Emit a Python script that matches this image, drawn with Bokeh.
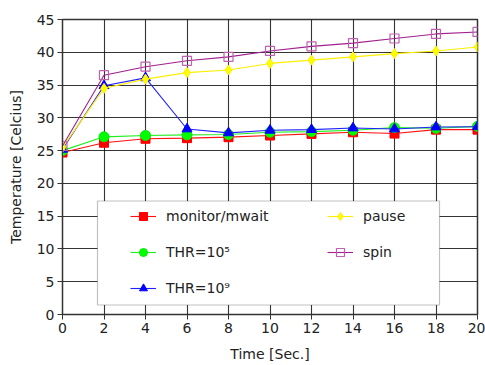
from bokeh.plotting import figure
from bokeh.models import Legend, LegendItem, BoxAnnotation, FixedTicker
from bokeh.embed import file_html
from bokeh.resources import INLINE

time_s = [0, 2, 4, 6, 8, 10, 12, 14, 16, 18, 20]
monitor_mwait = [24.7, 26.2, 26.8, 26.9, 27.05, 27.3, 27.55, 27.8, 27.6, 28.2, 28.2]
thr_1e5 = [25.0, 27.1, 27.3, 27.4, 27.45, 27.8, 27.9, 28.1, 28.5, 28.4, 28.7]
thr_1e9 = [25.2, 34.9, 36.1, 28.3, 27.7, 28.1, 28.2, 28.45, 28.3, 28.6, 28.65]
pause = [25.5, 34.5, 35.9, 36.9, 37.3, 38.3, 38.8, 39.3, 39.8, 40.2, 40.8]
spin = [25.7, 36.5, 37.8, 38.7, 39.3, 40.2, 40.9, 41.4, 42.1, 42.8, 43.1]

x_ticks = [0, 2, 4, 6, 8, 10, 12, 14, 16, 18, 20]
y_ticks = [0, 5, 10, 15, 20, 25, 30, 35, 40, 45]

FONT = "DejaVu Sans"

p = figure(width=485, height=365, output_backend="svg", toolbar_location=None,
           x_range=(0, 20), y_range=(0, 45),
           min_border_left=62, min_border_right=8, min_border_top=19, min_border_bottom=51)

p.background_fill_color = "white"
p.outline_line_color = "#333333"
p.outline_line_width = 1.5

for ax in (p.xaxis[0], p.yaxis[0]):
    ax.major_label_text_font = FONT
    ax.major_label_text_font_size = "14px"
    ax.major_label_text_color = "#222222"
    ax.axis_label_text_font = FONT
    ax.axis_label_text_font_size = "14px"
    ax.axis_label_text_font_style = "normal"
    ax.axis_label_text_color = "#222222"
    ax.axis_line_color = "#333333"
    ax.major_tick_line_color = "#333333"
    ax.major_tick_out = 5
    ax.major_tick_in = 0
    ax.minor_tick_line_color = None
    ax.major_label_standoff = 3

p.xaxis.ticker = FixedTicker(ticks=x_ticks)
p.yaxis.ticker = FixedTicker(ticks=y_ticks)
p.xaxis.axis_label = "Time [Sec.]"
p.yaxis.axis_label = "Temperature [Celcius]"
p.xaxis.axis_label_standoff = 10
p.yaxis.axis_label_standoff = 10

p.xgrid.ticker = FixedTicker(ticks=x_ticks)
p.ygrid.ticker = FixedTicker(ticks=y_ticks)
p.grid.grid_line_color = "#111111"
p.grid.grid_line_width = 1.1
p.grid.grid_line_alpha = 0.85

series = [
    ("monitor/mwait", monitor_mwait, "#ff1010", "square", "#ff0000", "#ff0000", 9),
    ("THR=10\u2075", thr_1e5, "#20ee20", "circle", "#00ee00", "#00ff00", 10),
    ("THR=10\u2079", thr_1e9, "#2020ff", "triangle", "#0000ff", "#0000ff", 10),
    ("pause", pause, "#ffee00", "diamond", "#ffee00", "#ffff00", 10),
    ("spin", spin, "#a0208f", "square", "#c060b0", None, 9),
]

items = {}
for label, ys, lc, marker, mlc, mfc, size in series:
    lr = p.line(time_s, ys, line_color=lc, line_width=1.1)
    if mfc is None:
        sr = p.scatter(time_s, ys, marker=marker, size=size, line_color=mlc,
                       fill_color=None, line_width=1.2)
    else:
        sr = p.scatter(time_s, ys, marker=marker, size=size, line_color=mlc,
                       fill_color=mfc)
    items[label] = LegendItem(label=label, renderers=[lr, sr])

box = BoxAnnotation(left=35, right=377, top=113.5, bottom=9.5,
                    left_units="screen", right_units="screen",
                    top_units="screen", bottom_units="screen",
                    fill_color="white", fill_alpha=1.0,
                    line_color="#333333", line_width=1.2)
p.add_layout(box)

order = ["monitor/mwait", "THR=10\u2075", "THR=10\u2079", "pause", "spin"]
legend = Legend(items=[items[k] for k in order], location=(68, 16), nrows=3,
                orientation="vertical",
                padding=0, spacing=16, glyph_width=26, glyph_height=20,
                label_height=20, label_width=145, label_standoff=10,
                label_text_font=FONT, label_text_font_size="14px",
                label_text_color="#222222",
                border_line_alpha=0, background_fill_alpha=0)
p.add_layout(legend)

open("out.html", "w").write(file_html(p, INLINE))
